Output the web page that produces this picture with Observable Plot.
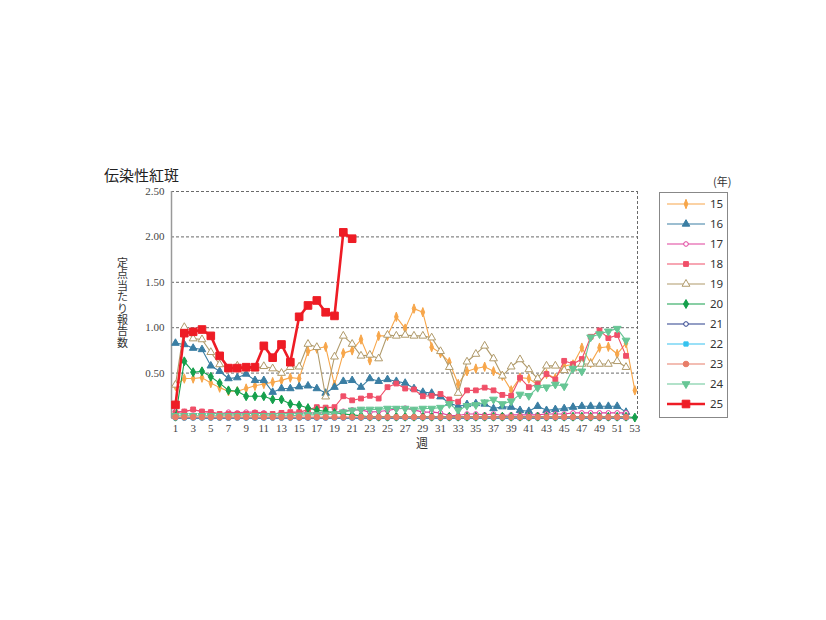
<!DOCTYPE html>
<html><head><meta charset="utf-8">
<script src="https://cdn.jsdelivr.net/npm/d3@7"></script>
<script src="https://cdn.jsdelivr.net/npm/@observablehq/plot@0.6"></script>
<style>
body{margin:0;background:#fff;}
#wrap{position:relative;width:826px;height:620px;overflow:hidden;font-family:"Noto Sans CJK JP","Noto Sans",sans-serif;line-height:1;}
#chart{position:absolute;left:0;top:0;}
#chart svg text{font-family:"Liberation Serif","DejaVu Serif",serif;font-size:11px;}
#title{position:absolute;left:104px;top:167px;font-size:15px;color:#222;}
#ylab{position:absolute;left:117px;top:257px;width:12px;font-size:11px;line-height:11.4px;color:#333;word-break:break-all;}
#xlab{position:absolute;left:416px;top:437px;font-size:12px;color:#333;}
#unit{position:absolute;left:713px;top:176px;font-size:11px;color:#333;}
#legend{position:absolute;left:659px;top:192px;width:69px;height:226px;border:1px solid #888;box-sizing:border-box;background:#fff;}
</style></head>
<body><div id="wrap">
<div id="chart"></div>
<div id="title">伝染性紅斑</div>
<div id="ylab">定点当たり報告数</div>
<div id="xlab">週</div>
<div id="unit">(年)</div>
<div id="legend"></div>
</div>
<script>
const weeks = d3.range(1, 54);
const xTicks = [1,3,5,7,9,11,13,15,17,19,21,23,25,27,29,31,33,35,37,39,41,43,45,47,49,51,53];
const yTicks = [0.5, 1, 1.5, 2, 2.5];
const years = ["15","16","17","18","19","20","21","22","23","24","25"];

const s15 = [0.36,0.44,0.44,0.45,0.39,0.34,0.30,0.30,0.33,0.36, 0.38,0.40,0.42,0.45,0.44,0.74,0.77,0.79,0.37,0.72, 0.75,0.87,0.64,0.91,0.91,1.12,0.99,1.21,1.17,0.785, 0.72,0.62,0.38,0.52,0.55,0.57,0.52,0.47,0.31,0.45, 0.44,0.37,0.49,0.445,0.58,0.595,0.78,0.61,0.78,0.79, 0.71,0.83,0.31];
const s16 = [0.83,0.815,0.775,0.76,0.58,0.52,0.44,0.45,0.49,0.42, 0.42,0.29,0.33,0.33,0.35,0.36,0.33,0.28,0.345,0.41, 0.42,0.345,0.44,0.41,0.43,0.41,0.39,0.33,0.29,0.28, 0.24,0.17,0.135,0.155,0.165,0.16,0.11,0.13,0.125,0.09, 0.08,0.135,0.09,0.10,0.11,0.125,0.135,0.135,0.135,0.135, 0.135,0.07];
const s17 = [0.077,0.077,0.095,0.077,0.07,0.05,0.07,0.062,0.07,0.07, 0.062,0.05,0.062,0.062,0.062,0.06,0.06,0.06,0.07,0.08, 0.095,0.095,0.07,0.077,0.088,0.106,0.114,0.095,0.07,0.07, 0.062,0.033,0.033,0.05,0.05,0.04,0.05,0.033,0.04,0.04, 0.04,0.04,0.05,0.05,0.05,0.062,0.062,0.062,0.062,0.062, 0.062,0.062];
const s18 = [0.06,0.077,0.10,0.077,0.07,0.05,0.05,0.05,0.05,0.062, 0.05,0.05,0.062,0.07,0.07,0.095,0.125,0.12,0.125,0.245, 0.20,0.22,0.25,0.22,0.345,0.385,0.33,0.32,0.245,0.25, 0.27,0.21,0.185,0.31,0.31,0.34,0.31,0.26,0.25,0.45, 0.345,0.38,0.49,0.43,0.635,0.60,0.655,0.90,0.97,0.885, 0.92,0.69];
const s19 = [0.37,1.005,0.88,0.87,0.73,0.595,0.55,0.58,0.55,0.55, 0.575,0.55,0.50,0.565,0.57,0.82,0.785,0.24,0.68,0.91, 0.82,0.69,0.70,0.66,0.92,0.91,0.92,0.91,0.91,0.89, 0.74,0.565,0.28,0.625,0.71,0.80,0.66,0.47,0.57,0.65, 0.54,0.44,0.58,0.58,0.53,0.55,0.60,0.60,0.60,0.60, 0.63,0.565];
const s20 = [0.02,0.63,0.51,0.52,0.46,0.39,0.31,0.30,0.245,0.245, 0.245,0.21,0.21,0.16,0.145,0.115,0.09,0.08,0.06,0.05, 0.04,0.03,0.02,0.02,0.02,0.02,0.02,0.02,0.02,0.02, 0.02,0.02,0.02,0.02,0.02,0.02,0.02,0.02,0.02,0.02, 0.02,0.02,0.02,0.02,0.02,0.02,0.02,0.02,0.02,0.02, 0.02,0.02,0.01];
const s21 = [0.005,0.005,0.005,0.005,0.005,0.005,0.005,0.005,0.005,0.005, 0.005,0.005,0.005,0.005,0.005,0.005,0.005,0.005,0.005,0.005, 0.005,0.005,0.005,0.005,0.005,0.005,0.005,0.005,0.005,0.005, 0.005,0.005,0.005,0.005,0.005,0.005,0.005,0.005,0.005,0.005, 0.005,0.005,0.005,0.005,0.005,0.005,0.005,0.005,0.005,0.005, 0.005,0.005];
const s22 = [0.01,0.01,0.01,0.01,0.01,0.01,0.01,0.01,0.01,0.01, 0.01,0.01,0.01,0.01,0.01,0.01,0.01,0.01,0.01,0.01, 0.01,0.01,0.01,0.01,0.01,0.01,0.01,0.01,0.01,0.01, 0.01,0.01,0.01,0.01,0.01,0.01,0.01,0.01,0.01,0.01, 0.01,0.01,0.01,0.01,0.01,0.01,0.01,0.01,0.01,0.01, 0.01,0.01];
const s23 = [0.015,0.015,0.015,0.015,0.015,0.015,0.015,0.015,0.015,0.015, 0.015,0.015,0.015,0.015,0.015,0.015,0.015,0.015,0.015,0.015, 0.015,0.015,0.015,0.015,0.015,0.015,0.015,0.015,0.015,0.015, 0.015,0.015,0.015,0.015,0.015,0.015,0.015,0.015,0.015,0.015, 0.015,0.015,0.015,0.015,0.015,0.015,0.015,0.015,0.015,0.015, 0.015,0.015];
const s24 = [0.03,0.03,0.03,0.03,0.03,0.03,0.03,0.03,0.03,0.03, 0.03,0.03,0.03,0.03,0.035,0.04,0.04,0.045,0.05,0.07, 0.09,0.10,0.10,0.10,0.11,0.11,0.11,0.10,0.11,0.11, 0.12,0.16,0.09,0.14,0.15,0.18,0.21,0.16,0.19,0.265, 0.25,0.34,0.345,0.375,0.355,0.55,0.52,0.895,0.93,0.96, 0.99,0.86];
const s25 = [0.15,0.94,0.955,0.98,0.91,0.69,0.555,0.555,0.565,0.565, 0.80,0.67,0.815,0.62,1.12,1.245,1.30,1.17,1.13,2.05, 1.98];

const values = [s15,s16,s17,s18,s19,s20,s21,s22,s23,s24,s25];

// styles
const sqrt3 = Math.sqrt(3);
const triDown = {draw(ctx, size){ const y = -Math.sqrt(size/(sqrt3*3)); ctx.moveTo(0,-y*2); ctx.lineTo(-sqrt3*y, y); ctx.lineTo(sqrt3*y, y); ctx.closePath(); }};
const thinDiamond = {draw(ctx, size){ const h = Math.sqrt(size)*0.95; const w = h*0.38; ctx.moveTo(0,-h); ctx.lineTo(w,0); ctx.lineTo(0,h); ctx.lineTo(-w,0); ctx.closePath(); }};
const styles = {
  "15": {color:"#f7a64a", symbol: thinDiamond, fill:"#f7a64a", r:2.8, sw:1.1},
  "16": {color:"#3a7ea3", symbol: d3.symbolTriangle, fill:"#3a7ea3", r:2.8, sw:1.1},
  "17": {color:"#e0409c", symbol: d3.symbolCircle, fill:"#fff", r:2.3, sw:1.1},
  "18": {color:"#f04f68", symbol: d3.symbolSquare, fill:"#f04f68", r:2.7, sw:1.1},
  "19": {color:"#b09a6a", symbol: d3.symbolTriangle, fill:"#fff", r:2.9, sw:1.1},
  "20": {color:"#15a04c", symbol: d3.symbolDiamond, fill:"#15a04c", r:2.7, sw:1.1},
  "21": {color:"#2b3f8c", symbol: d3.symbolCircle, fill:"#fff", r:2.3, sw:1.1},
  "22": {color:"#36c2ef", symbol: d3.symbolSquare, fill:"#36c2ef", r:2.4, sw:1.1},
  "23": {color:"#e87d68", symbol: d3.symbolCircle, fill:"#e87d68", r:2.8, sw:1.1},
  "24": {color:"#67c695", symbol: triDown, fill:"#67c695", r:2.9, sw:1.1},
  "25": {color:"#ee1c25", symbol: d3.symbolSquare, fill:"#ee1c25", r:4.3, sw:2.6}
};

const rows = [];
years.forEach((yr, k) => values[k].forEach((v, i) => rows.push({year: yr, week: weeks[i], value: v})));

const drawOrder = ["21","22","15","16","17","18","19","20","24","23","25"];
const xDomain = [0.55, 53.3];
const yDomain = [0, 2.5];

const seriesMarks = drawOrder.flatMap(yr => {
  const st = styles[yr];
  const d = rows.filter(r => r.year === yr);
  return [
    Plot.line(d, {x:"week", y:"value", stroke: st.color, strokeWidth: st.sw}),
    Plot.dot(d, {x:"week", y:"value", symbol: () => st.symbol, r: st.r, fill: st.fill, stroke: st.color, strokeWidth: 1})
  ];
});

const chart = Plot.plot({
  width: 826, height: 460,
  marginLeft: 171, marginRight: 189, marginTop: 191, marginBottom: 42,
  x: {domain: xDomain},
  y: {domain: yDomain},
  symbol: {type: "identity"},
  style: {fontFamily: "'Liberation Serif', serif", fontSize: "11px", color: "#444", background: "none"},
  marks: [
    Plot.ruleY(yTicks, {stroke: "#6a6a6a", strokeDasharray: "3,2", strokeWidth: 1}),
    Plot.ruleX([xDomain[1]], {stroke: "#6a6a6a", strokeDasharray: "3,2", strokeWidth: 1}),
    Plot.ruleY([yDomain[0]], {stroke: "#aaa", strokeWidth: 1}),
    Plot.ruleX([xDomain[0]], {stroke: "#999", strokeWidth: 1.5}),
    Plot.axisX({ticks: xTicks, tickSize: 0, tickPadding: 6, label: null, tickFormat: d => String(d)}),
    Plot.axisY({ticks: yTicks, tickSize: 0, tickPadding: 7, label: null, tickFormat: d3.format(".2f")}),
    ...seriesMarks
  ]
});
document.getElementById("chart").appendChild(chart);

// legend
const lg = d3.select("#legend").append("svg").attr("width", 67).attr("height", 224).style("display","block");
years.forEach((yr, i) => {
  const st = styles[yr];
  const y = 11 + i * 20;
  const g = lg.append("g").attr("transform", `translate(0,${y})`);
  g.append("line").attr("x1", 7).attr("x2", 45).attr("y1", 0).attr("y2", 0).attr("stroke", st.color).attr("stroke-width", st.sw);
  g.append("path").attr("transform", "translate(26,0)")
    .attr("d", d3.symbol(st.symbol, Math.PI * st.r * st.r)())
    .attr("fill", st.fill).attr("stroke", st.color).attr("stroke-width", 1);
  g.append("text").attr("x", 50).attr("y", 0).attr("dy", "0.35em")
    .attr("font-size", "11.5px").attr("font-family", "'Noto Sans', sans-serif").attr("fill", "#333").text(yr);
});
</script>
</body></html>
